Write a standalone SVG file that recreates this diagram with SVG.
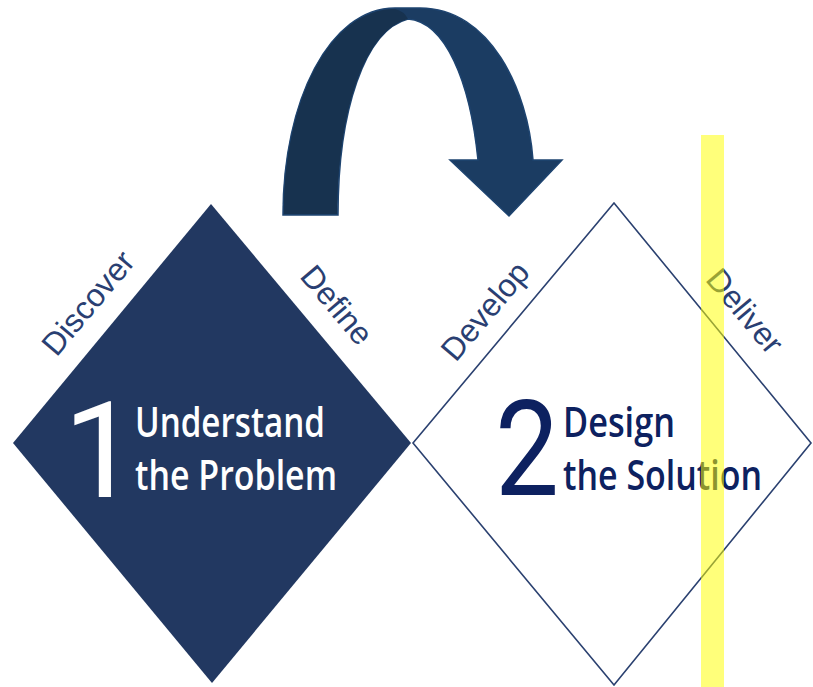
<svg xmlns="http://www.w3.org/2000/svg" width="813" height="687" viewBox="0 0 813 687">
  <style>
    .phase { font-family: "Liberation Sans", Arial, sans-serif; font-size: 32px; fill: #2a3f72; }
    .num { font-family: Roboto, "Open Sans", sans-serif; font-size: 134px; }
    .title { font-family: "Open Sans", "Noto Sans", sans-serif; font-size: 42px; font-weight: 600; }
  </style>
  <rect width="813" height="687" fill="#ffffff"/>

  <!-- loop-back arrow over the two diamonds -->
  <g id="connectors">
    <path d="M283,215 C283,100 330,8 395,8 L420,8 C490,8 528,90 533,160 L562,160 L509,216 L450,160 L478,160 C470,80 445,22 408,19 C365,30 338,110 338,215 Z" fill="#1b3c62" stroke="#1e4470" stroke-width="1.5"/>
    <path d="M284,214 C284,100 330,9 395,9 Q404,11 408,19 C365,30 338,110 337,214 Z" fill="#17324f"/>
  </g>

  <!-- diamond 1: understand the problem -->
  <g id="diamond1">
    <polygon points="211,204 411,443 212,683 13,443" fill="#223861"/>
    <text class="num" x="101" y="497" fill="#ffffff" text-anchor="middle">1</text>
    <text class="title" x="135" y="437" fill="#ffffff" textLength="190" lengthAdjust="spacingAndGlyphs">Understand</text>
    <text class="title" x="135" y="490" fill="#ffffff" textLength="202" lengthAdjust="spacingAndGlyphs">the Problem</text>
  </g>

  <!-- diamond 2: design the solution -->
  <g id="diamond2">
    <polygon points="614,203 811,443 614,685 413,443" fill="none" stroke="#2b4170" stroke-width="1.6"/>
    <text class="num" transform="translate(527,495) scale(0.85,1)" x="0" y="0" fill="#0d2160" text-anchor="middle">2</text>
    <text class="title" x="563" y="437" fill="#0d2160" textLength="112" lengthAdjust="spacingAndGlyphs">Design</text>
    <text class="title" x="563" y="490" fill="#0d2160" textLength="199" lengthAdjust="spacingAndGlyphs">the Solution</text>
  </g>

  <!-- phase labels along the diamond edges -->
  <g id="labels">
    <text class="phase" transform="translate(88,303) rotate(-50)" text-anchor="middle" dominant-baseline="central">Discover</text>
    <text class="phase" transform="translate(337,305) rotate(50)" text-anchor="middle" dominant-baseline="central">Define</text>
    <text class="phase" transform="translate(485,311) rotate(-50)" text-anchor="middle" dominant-baseline="central">Develop</text>
    <text class="phase" transform="translate(745,311) rotate(50)" text-anchor="middle" dominant-baseline="central">Deliver</text>
  </g>

  <!-- highlight bar -->
  <rect id="highlight" x="701" y="135" width="23" height="552" fill="#ffff00" opacity="0.52"/>
</svg>
